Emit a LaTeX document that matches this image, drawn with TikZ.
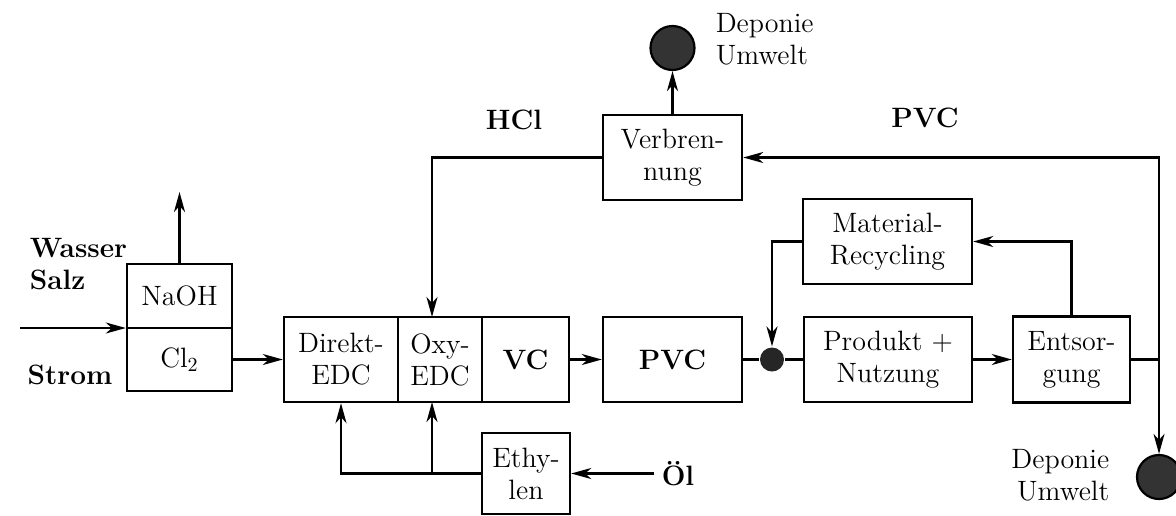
\documentclass[tikz,border=0pt]{standalone}
\usepackage{fontspec}
\usetikzlibrary{arrows.meta}

\begin{document}
\begin{tikzpicture}[x=0.5pt,y=-0.5pt,>={Stealth[length=10pt,width=5.5pt,inset=3pt]},line width=1.1pt,
  font=\fontsize{14}{16}\selectfont,
  blk/.style={draw,line width=1.2pt,align=center,inner sep=2pt},
  dep/.style={circle,draw,fill=black!80,inner sep=0pt,minimum size=22pt}]
\useasboundingbox (0,0) rectangle (1176,515);
% Elektrolyse
\node[blk,minimum width=52.5pt,minimum height=32pt] (naoh) at (179.5,296) {NaOH};
\node[blk,minimum width=52.5pt,minimum height=31.5pt] (cl2) at (179.5,359.5) {Cl$_2$};
\node[font=\fontsize{14}{16}\selectfont\bfseries,anchor=west] (wasser) at (22,248) {Wasser};
\node[font=\fontsize{14}{16}\selectfont\bfseries,anchor=west] (salz) at (22,280) {Salz};
\node[font=\fontsize{14}{16}\selectfont\bfseries] (strom) at (70,375) {Strom};
\coordinate (win) at (20,328);
\coordinate (naohout) at (179.5,192);
\draw[->] (win) -- (win -| naoh.west);
\draw[->] (naoh.north) -- (naohout);
% EDC / VC / PVC
\node[blk,minimum width=57pt,minimum height=42.5pt] (direkt) at (341,359.5) {Direkt-\\EDC};
\node[blk,minimum width=42pt,minimum height=42.5pt] (oxy) at (440,359.5) {Oxy-\\EDC};
\node[blk,minimum width=43.5pt,minimum height=42.5pt,font=\fontsize{14}{16}\selectfont\bfseries] (vc) at (525.5,359.5) {VC};
\node[blk,minimum width=69.5pt,minimum height=42.5pt,font=\fontsize{14}{16}\selectfont\bfseries] (pvc) at (672.5,359.5) {PVC};
\draw[->] (cl2.east) -- (direkt.west);
\draw[->] (vc.east) -- (pvc.west);
% Ethylen
\node[blk,minimum width=44pt,minimum height=40.5pt] (eth) at (526,473.5) {Ethy-\\len};
\node[font=\fontsize{14}{16}\selectfont\bfseries,anchor=west] (oel) at (654,473.5) {Öl};
\coordinate (oxyin) at (432,402);
\coordinate (oxytop) at (432,317);
\draw[->] (oel.west) -- (eth.east);
\draw[->] (eth.west) -| (direkt.south);
\draw[->] (oxyin |- eth.west) -- (oxyin);
% Verbrennung
\node[blk,minimum width=69.5pt,minimum height=42.5pt] (verb) at (672.5,157.5) {Verbren-\\nung};
\node[dep] (dep1) at (672.5,48) {};
\node[align=left,anchor=west] (dep1txt) at (708,39) {Deponie\\Umwelt};
\node[font=\fontsize{14}{16}\selectfont\bfseries] (hcl) at (514,120) {HCl};
\node[font=\fontsize{14}{16}\selectfont\bfseries] (pvclbl) at (925,118) {PVC};
\draw[->] (verb.north) -- (dep1.south);
\draw[->] (verb.west) -| (oxytop);
% Produkt, Recycling, Entsorgung
\node[circle,fill=black!85,inner sep=0pt,minimum size=12pt] (dot) at (772,359.5) {};
\node[blk,minimum width=84pt,minimum height=42.5pt] (prod) at (888,359.5) {Produkt +\\Nutzung};
\node[blk,minimum width=84.5pt,minimum height=42.5pt] (mat) at (887.5,241.5) {Material-\\Recycling};
\node[blk,minimum width=58.5pt,minimum height=43pt] (ents) at (1071.5,359.5) {Entsor-\\gung};
\node[dep] (dep2) at (1159,477) {};
\node[align=right,anchor=east] (dep2txt) at (1117,475) {Deponie\\Umwelt};
\coordinate (jr) at (1159,359.5);
\draw (pvc.east) -- (dot) -- (prod.west);
\draw[->] (prod.east) -- (ents.west);
\draw[->] (ents.north) |- (mat.east);
\draw[->] (mat.west) -| (dot.north);
\draw[->] (ents.east) -- (jr) |- (verb.east);
\draw[->] (jr) -- (dep2.north);
\end{tikzpicture}
\end{document}
